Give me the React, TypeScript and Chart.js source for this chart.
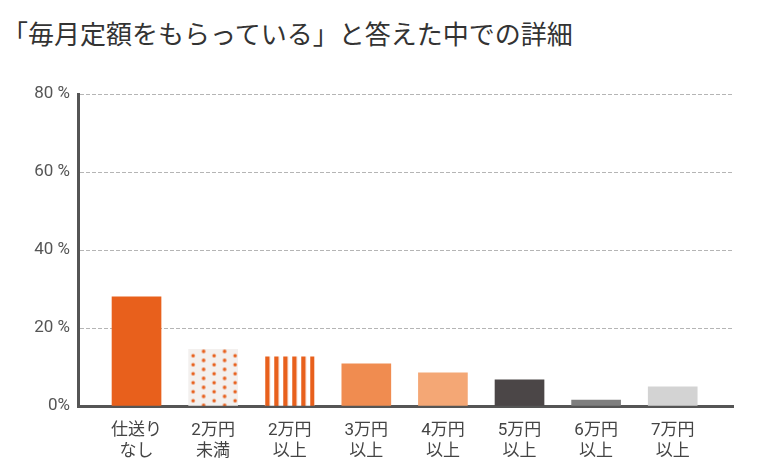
import React, { useEffect, useRef } from 'react';
import { Chart, registerables } from 'chart.js';

Chart.register(...registerables);

// categories (two-line tick labels)
const categories: string[][] = [
  ['仕送り', 'なし'],
  ['2万円', '未満'],
  ['2万円', '以上'],
  ['3万円', '以上'],
  ['4万円', '以上'],
  ['5万円', '以上'],
  ['6万円', '以上'],
  ['7万円', '以上'],
];

// share of respondents, %
const shares: number[] = [28, 14.5, 12.6, 10.8, 8.5, 6.7, 1.5, 4.9];

const yTicks: number[] = [0, 20, 40, 60, 80];

const ORANGE = '#e8601c';
const barColors = [ORANGE, 'dots', 'stripes', '#f08c50', '#f4a775', '#4b4647', '#7f7f7f', '#d3d3d3'];
const BAR_W = 49;

const FONT = '"Liberation Sans Narrow", Roboto, "Noto Sans CJK JP", sans-serif';

function dotPattern(ctx: CanvasRenderingContext2D) {
  const c = document.createElement('canvas');
  c.width = 21;
  c.height = 9;
  const g = c.getContext('2d')!;
  g.fillStyle = '#f3f0ee';
  g.fillRect(0, 0, 21, 9);
  g.fillStyle = ORANGE;
  g.beginPath();
  g.arc(4.5, 6.3, 1.8, 0, Math.PI * 2);
  g.arc(15, 1.9, 1.8, 0, Math.PI * 2);
  g.fill();
  return ctx.createPattern(c, 'repeat')!;
}

function stripePattern(ctx: CanvasRenderingContext2D) {
  const c = document.createElement('canvas');
  c.width = 9;
  c.height = 4;
  const g = c.getContext('2d')!;
  g.fillStyle = '#ffffff';
  g.fillRect(0, 0, 9, 4);
  g.fillStyle = ORANGE;
  g.fillRect(0, 0, 4.4, 4);
  return ctx.createPattern(c, 'repeat')!;
}

const App: React.FC = () => {
  const canvasRef = useRef<HTMLCanvasElement>(null);
  const chartRef = useRef<Chart | null>(null);

  useEffect(() => {
    if (!canvasRef.current) return;
    const ctx = canvasRef.current.getContext('2d');
    if (!ctx) return;
    if (chartRef.current) chartRef.current.destroy();

    const patterns: Record<string, CanvasPattern> = {
      dots: dotPattern(ctx),
      stripes: stripePattern(ctx),
    };

    chartRef.current = new Chart(ctx, {
      type: 'bar',
      data: {
        datasets: [
          {
            data: shares.map((v, i) => ({ x: i, y: v })),
            barThickness: BAR_W,
            borderWidth: 0,
            backgroundColor: (c: any) => {
              const i = c.dataIndex ?? 0;
              const col = barColors[i];
              const p = patterns[col];
              if (!p) return col;
              const xs = c.chart.scales.x;
              const ys = c.chart.scales.y;
              if (xs && ys) {
                const left = xs.getPixelForValue(i) - BAR_W / 2;
                const top = ys.getPixelForValue(shares[i]);
                p.setTransform(new DOMMatrix().translate(left, top));
              }
              return p;
            },
          },
        ],
      } as any,
      options: {
        animation: false,
        responsive: true,
        maintainAspectRatio: false,
        layout: { padding: { top: 86, right: 25, left: 0, bottom: 0 } },
        plugins: {
          legend: { display: false },
          tooltip: { enabled: false },
        },
        scales: {
          x: {
            type: 'linear',
            offset: false,
            min: -0.764,
            max: 7.787,
            afterFit: (s: any) => {
              s.height = 57;
            },
            afterBuildTicks: (s: any) => {
              s.ticks = categories.map((_, i) => ({ value: i }));
            },
            grid: { display: false, offset: false },
            border: { color: '#555555', width: 3 },
            ticks: {
              autoSkip: false,
              maxRotation: 0,
              padding: 7,
              color: '#444444',
              font: { family: FONT, size: 17, lineHeight: 1.2 },
              callback: (v: any) => categories[Math.round(Number(v))] ?? '',
            },
          },
          y: {
            min: 0,
            max: 80,
            afterFit: (s: any) => {
              s.width = 70;
            },
            afterBuildTicks: (s: any) => {
              s.ticks = yTicks.map((v) => ({ value: v }));
            },
            grid: {
              drawTicks: false,
              color: (c: any) => (c.tick && c.tick.value === 0 ? 'rgba(0,0,0,0)' : '#b5b5b5'),
              lineWidth: 1,
            },
            border: { color: '#555555', width: 3, dash: [4, 2] },
            ticks: {
              padding: 8,
              color: '#555555',
              font: { family: FONT, size: 17 },
              callback: (v: any) => (Number(v) === 0 ? '0%' : `${v} %`),
            },
          },
        },
      } as any,
    });

    return () => {
      if (chartRef.current) {
        chartRef.current.destroy();
        chartRef.current = null;
      }
    };
  }, []);

  return (
    <div style={{ position: 'relative', width: 750, height: 455, background: '#ffffff' }}>
      <div
        style={{
          position: 'absolute',
          left: -6,
          top: 12,
          fontFamily: '"Noto Sans CJK JP", sans-serif',
          fontSize: 26,
          color: '#333333',
          whiteSpace: 'nowrap',
          lineHeight: 1,
        }}
      >
        「毎月定額をもらっている」と答えた中での詳細
      </div>
      <div style={{ position: 'absolute', left: 0, top: 0, width: 750, height: 455 }}>
        <canvas ref={canvasRef}></canvas>
      </div>
    </div>
  );
};

export default App;
